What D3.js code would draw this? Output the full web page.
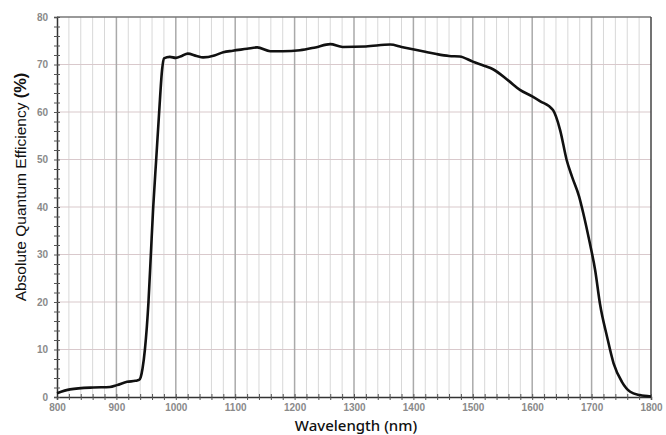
<!DOCTYPE html>
<html>
<head>
<meta charset="utf-8">
<script src="https://cdn.jsdelivr.net/npm/d3@7"></script>
<style>
  body { margin: 0; background: #fff; }
  svg { display: block; }
</style>
</head>
<body>
<svg id="svg" width="666" height="435"></svg>
<script>
// wavelength (nm) and quantum efficiency (%)
var wavelength = [800, 822, 861, 889, 901, 918, 932, 938, 941, 944, 948, 954, 958, 962, 967, 972, 977, 980,
  990, 1000, 1010, 1020, 1035, 1046, 1065, 1080, 1096, 1120, 1137, 1159, 1180, 1209, 1235, 1260, 1281,
  1320, 1361, 1380, 1399, 1420, 1439, 1460, 1478, 1500, 1520, 1534, 1560, 1580, 1600, 1613, 1635, 1647,
  1658, 1667, 1679, 1686, 1697, 1706, 1714, 1726, 1737, 1751, 1765, 1781, 1800];
var efficiency = [0.8, 1.6, 2.0, 2.1, 2.5, 3.2, 3.4, 3.6, 4.2, 6.0, 10, 20, 30, 40, 50, 60, 69, 71.3,
  71.6, 71.4, 71.8, 72.3, 71.8, 71.5, 71.9, 72.6, 72.9, 73.3, 73.6, 72.8, 72.8, 73.0, 73.6, 74.3, 73.7,
  73.8, 74.2, 73.7, 73.2, 72.7, 72.2, 71.8, 71.7, 70.6, 69.7, 69.0, 66.6, 64.6, 63.3, 62.3, 60.4, 56.2,
  49.9, 46.4, 42.2, 38.7, 32.4, 26.7, 19.7, 12.7, 7.1, 3.2, 1.1, 0.4, 0.1];

var xTicks = [800, 900, 1000, 1100, 1200, 1300, 1400, 1500, 1600, 1700, 1800];
var yTicks = [0, 10, 20, 30, 40, 50, 60, 70, 80];

var width = document.getElementById('svg').clientWidth;
var height = document.getElementById('svg').clientHeight;

var marginLeft = 57;
var marginTop = 17;
var plotW = 594;
var plotH = 380;

var svg = d3.select('svg')
    .append('g')
    .attr('transform', 'translate(' + marginLeft + ',' + marginTop + ')');

var x = d3.scaleLinear().domain([800, 1800]).range([0, plotW]);
var y = d3.scaleLinear().domain([0, 80]).range([plotH, 0]);

// minor vertical grid every 20 nm
svg.selectAll('line.vminor')
    .data(d3.range(820, 1800, 20).filter(function(d){ return d % 100 !== 0; }))
    .enter()
    .append('line')
    .attr('x1', function(d){ return x(d); })
    .attr('x2', function(d){ return x(d); })
    .attr('y1', 0)
    .attr('y2', plotH)
    .attr('stroke', '#d8d8d8')
    .attr('stroke-width', 1);

// horizontal grid every 10 %
svg.selectAll('line.hgrid')
    .data(yTicks.slice(1, -1))
    .enter()
    .append('line')
    .attr('x1', 0)
    .attr('x2', plotW)
    .attr('y1', function(d){ return y(d); })
    .attr('y2', function(d){ return y(d); })
    .attr('stroke', '#d9c9cc')
    .attr('stroke-width', 1.2);

// major vertical grid every 100 nm
svg.selectAll('line.vmajor')
    .data(xTicks.slice(1, -1))
    .enter()
    .append('line')
    .attr('x1', function(d){ return x(d); })
    .attr('x2', function(d){ return x(d); })
    .attr('y1', 0)
    .attr('y2', plotH)
    .attr('stroke', '#aaaaaa')
    .attr('stroke-width', 1.5);

// frame
svg.append('line').attr('x1', 0).attr('x2', plotW).attr('y1', 0).attr('y2', 0)
    .attr('stroke', '#777').attr('stroke-width', 1.3);
svg.append('line').attr('x1', plotW).attr('x2', plotW).attr('y1', 0).attr('y2', plotH)
    .attr('stroke', '#444').attr('stroke-width', 1.5);

// axes
var xAxis = d3.axisBottom(x).tickValues(d3.range(800, 1801, 20)).tickSize(3)
    .tickFormat(function(d){ return d % 100 === 0 ? d : ''; });
var gx = svg.append('g').attr('transform', 'translate(0,' + plotH + ')').call(xAxis);
gx.select('.domain').attr('stroke', '#333').attr('stroke-width', 1.5);
gx.selectAll('.tick line').attr('stroke', '#555').attr('y1', -3).attr('y2', 3);
gx.selectAll('.tick text').attr('fill', '#8a8a8a').attr('font-family', 'Liberation Sans, Arial, sans-serif')
    .attr('font-size', 10).attr('font-weight', 'bold').attr('dy', '0.8em');

var yAxis = d3.axisLeft(y).tickValues(d3.range(0, 81, 2)).tickSize(3)
    .tickFormat(function(d){ return d % 10 === 0 ? d : ''; });
var gy = svg.append('g').call(yAxis);
gy.select('.domain').attr('stroke', '#333').attr('stroke-width', 1.5);
gy.selectAll('.tick line').attr('stroke', '#555').attr('x1', 3).attr('x2', -3);
gy.selectAll('.tick text').attr('fill', '#8a8a8a').attr('font-family', 'Liberation Sans, Arial, sans-serif')
    .attr('font-size', 10).attr('font-weight', 'bold').attr('x', -9);

// curve
var line = d3.line()
    .x(function(d){ return x(d[0]); })
    .y(function(d){ return y(d[1]); })
    .curve(d3.curveMonotoneX);

svg.append('path')
    .datum(d3.zip(wavelength, efficiency))
    .attr('d', line)
    .attr('fill', 'none')
    .attr('stroke', '#111')
    .attr('stroke-width', 2.6)
    .attr('stroke-linejoin', 'round');

// labels
d3.select('svg').append('text')
    .attr('x', 356)
    .attr('y', 431)
    .attr('text-anchor', 'middle')
    .attr('font-family', 'Noto Sans, Open Sans, sans-serif')
    .attr('font-size', 15)
    .attr('font-weight', 500)
    .attr('fill', '#111')
    .text('Wavelength (nm)');

var yl = d3.select('svg').append('text')
    .attr('transform', 'translate(26,187) rotate(-90)')
    .attr('text-anchor', 'middle')
    .attr('font-family', 'Liberation Sans, Arial, sans-serif')
    .attr('font-size', 15.5)
    .attr('fill', '#111');
yl.append('tspan').text('Absolute Quantum Efficiency ');
yl.append('tspan').attr('font-weight', 'bold').attr('font-size', 16.5).text('(%)');
</script>
</body>
</html>
